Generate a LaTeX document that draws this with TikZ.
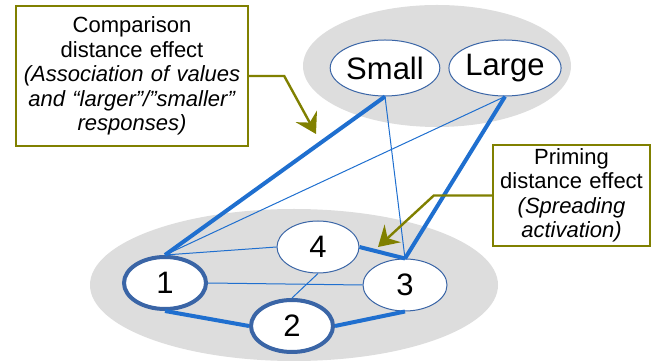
\documentclass[tikz,border=0pt]{standalone}
\usepackage{fontspec}
\setmainfont{Liberation Sans}
\usepackage{tikz}
\usetikzlibrary{calc,arrows.meta,positioning,shapes.geometric}
\definecolor{linkblue}{HTML}{1F6FCF}
\definecolor{rimblue}{HTML}{3A65A6}
\definecolor{olivebox}{HTML}{808000}
\definecolor{cloud}{HTML}{DDDDDD}
\tikzstyle{cloud}=[ellipse,fill=cloud,inner sep=0]
\tikzstyle{word node}=[ellipse,draw=rimblue,line width=0.5pt,fill=white,inner sep=0,minimum width=52pt,minimum height=28pt,font=\fontsize{15.5}{18}\selectfont]
\tikzstyle{num node}=[word node,minimum width=41pt,minimum height=26pt]
\tikzstyle{bold node}=[num node,line width=2pt]
\tikzstyle{strong}=[linkblue,line width=2pt]
\tikzstyle{weak}=[linkblue,line width=0.5pt]
\tikzstyle{callout}=[draw=olivebox,line width=1.2pt,fill=white,align=center,inner sep=0,font=\fontsize{11}{12.2}\selectfont]
\tikzstyle{pointer}=[olivebox,line width=1.2pt,-{Stealth[length=10pt,width=12pt,inset=3.5pt]}]

\begin{document}
\begin{tikzpicture}[x=0.5pt,y=-0.5pt]
		\useasboundingbox (0,0) rectangle (652,362);

		% grey clouds
		\node(top)[cloud,minimum width=134pt,minimum height=61pt] at (437,66) {};
		\node(bottom)[cloud,minimum width=204pt,minimum height=76pt] at (294,285) {};

		% response nodes
		\node(small)[word node] at (385,68) {Small};
		\node(large)[word node] at (505,68) {Large};

		% number nodes
		\node(n1)[bold node] at (165,283) {1};
		\node(n2)[bold node] at (292,326) {2};
		\node(n3)[num node,minimum width=42pt] at (405,285) {3};
		\node(n4)[num node] at (318,247) {4};

		% links
		\draw[strong] (small.south) -- (n1.north);
		\draw[weak] (small.south) -- (n3.north);
		\draw[weak] (large.south) -- (n1.north);
		\draw[strong] (large.south) -- (n3.north);
		\draw[weak] (n1.north) -- (n4.west);
		\draw[weak] (n1.east) -- (n3.west);
		\draw[weak] (n4.south) -- (n2.north);
		\draw[strong] (n1.south) -- (n2.west);
		\draw[strong] (n2.east) -- (n3.south);
		\draw[strong] (n4.east) -- (n3.north);

		% callouts
		\node(cmp)[callout,minimum width=116pt,minimum height=70pt,text width=112pt] at (132,76)
		    {Comparison\\distance effect\\\textit{(Association of values}\\\textit{and “larger”/”smaller”}\\\textit{responses)}};
		\node(prm)[callout,minimum width=78.5pt,minimum height=50.5pt,text width=76pt] at (571.5,195.5)
		    {Priming\\distance effect\\\textit{(Spreading}\\\textit{activation)}};
		\coordinate(cmptip) at (316,134);
		\coordinate(prmtip) at (378,247);
		\draw[pointer] (cmp.east) -- ++(35,0) -- (cmptip);
		\draw[pointer] (prm.west) -- ++(-58,0) -- (prmtip);

		\end{tikzpicture}
\end{document}
